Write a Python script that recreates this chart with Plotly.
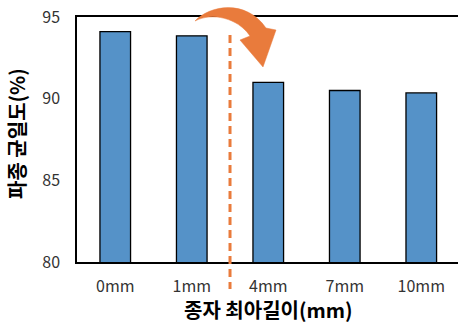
import plotly.graph_objects as go

categories = ["0mm", "1mm", "4mm", "7mm", "10mm"]
uniformity = [94.1, 93.85, 91.0, 90.5, 90.35]
y_ticks = [80, 85, 90, 95]
x_title = "종자 최아길이(mm)"
y_title = "파종 균일도(%)"

W, H = 458, 324
L, R, T, B = 77, 0, 17, 62
PW, PH = W - L - R, H - T - B
XR = [-0.5, 4.48]

def px(x):
    return (x - L) / PW

def py(y):
    return (H - B - y) / PH

FONT = "Malgun Gothic, Noto Sans CJK KR, Noto Sans, sans-serif"
ORANGE = "#E97B3C"

fig = go.Figure()
fig.add_trace(go.Bar(
    x=categories, y=uniformity,
    marker=dict(color="#5592C8", line=dict(color="#000000", width=1.3)),
    width=0.4,
))

# dashed divider between 1mm and 4mm
xdiv = (1.5 - XR[0]) / (XR[1] - XR[0])
fig.add_shape(type="line", xref="paper", yref="paper",
              x0=xdiv, x1=xdiv, y0=py(35), y1=py(289),
              line=dict(color=ORANGE, width=3, dash="8px,5px"))

# curved arrow
pts = [
    ("M", [(195, 21)]),
    ("C", [(210, 5), (246, -1), (266, 28)]),
    ("L", [(276, 30)]),
    ("L", [(263, 67)]),
    ("L", [(240, 40)]),
    ("L", [(250, 36)]),
    ("C", [(238, 18), (212, 12), (195, 21)]),
]
path = ""
for cmd, ps in pts:
    path += cmd + " " + " ".join(f"{px(a):.5f},{py(b):.5f}" for a, b in ps) + " "
path += "Z"
fig.add_shape(type="path", xref="paper", yref="paper", path=path,
              fillcolor=ORANGE, line=dict(color=ORANGE, width=0.5))

fig.add_annotation(text=f"<b>{x_title}</b>", xref="paper", yref="paper",
                   x=px(268), y=py(309), xanchor="center", yanchor="middle",
                   showarrow=False,
                   font=dict(family=FONT, size=20, color="#000000"))
fig.add_annotation(text=f"<b>{y_title}</b>", xref="paper", yref="paper",
                   x=px(16), y=py(133), xanchor="center", yanchor="middle",
                   showarrow=False, textangle=-90,
                   font=dict(family=FONT, size=20, color="#000000"))

fig.update_layout(
    width=W, height=H,
    margin=dict(l=L, r=R, t=T, b=B),
    paper_bgcolor="white", plot_bgcolor="white",
    showlegend=False,
    font=dict(family=FONT, size=16, color="#333333"),
    xaxis=dict(range=XR, showline=True, mirror=True, linecolor="#000000",
               linewidth=1.5, showgrid=False, ticks="", ticklabelstandoff=9,
               tickfont=dict(size=16, color="#333333")),
    yaxis=dict(range=[80, 95], tickvals=y_ticks, showline=True,
               linecolor="#000000", linewidth=1.5, showgrid=False,
               zeroline=False, ticks="", ticklabelstandoff=12,
               tickfont=dict(size=16, color="#333333")),
)

fig.write_html("out.html")
